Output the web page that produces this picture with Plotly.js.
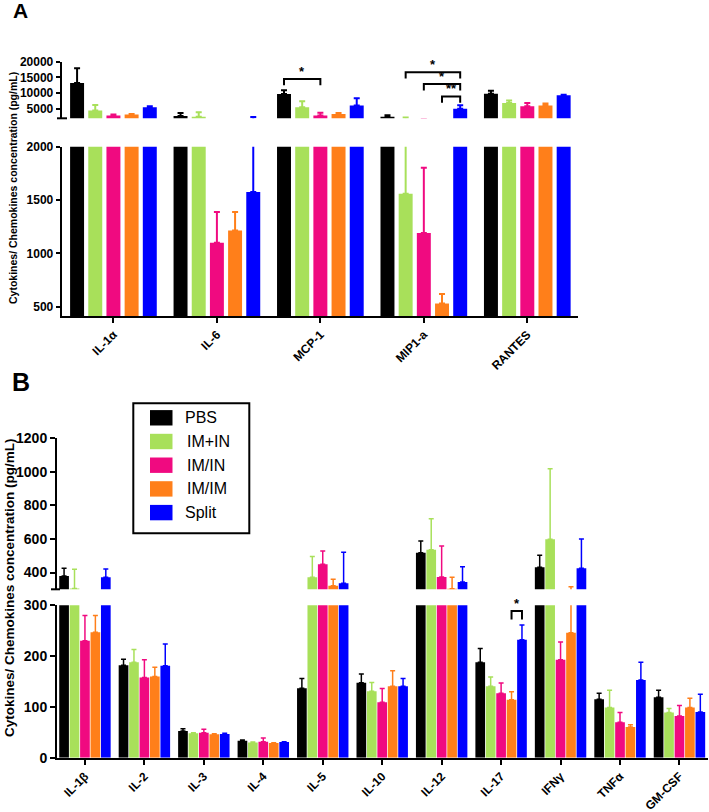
<!DOCTYPE html>
<html>
<head>
<meta charset="utf-8">
<script src="https://cdn.plot.ly/plotly-3.0.1.min.js"></script>
<style>body{margin:0;background:#fff}</style>
</head>
<body>
<div id="chart" style="width:709px;height:812px"></div>
<script>
// groups / colours
var groups = ['PBS', 'IM+IN', 'IM/IN', 'IM/IM', 'Split'];
var colors = ['#000000', '#a8e05a', '#f00a80', '#ff7f1a', '#0000ff'];

// panel A
var catsA = ['IL-1α', 'IL-6', 'MCP-1', 'MIP1-a', 'RANTES'];
var pbsA     = [13200, 2700, 9700, 2500, 9800];
var imPlusA  = [4450, 2500, 5500, 1560, 6900];
var imInA    = [2900, 1100, 2900, 1190, 5800];
var imImA    = [3200, 1215, 3400, 530, 6050];
var splitA   = [5500, 1575, 6050, 5000, 9300];
var pbsAErr    = [4700, 1000, 1200, 500, 1000];
var imPlusAErr = [1800, 1400, 1900, 690, 800];
var imInAErr   = [300, 288, 840, 613, 1090];
var imImAErr   = [200, 173, 300, 90, 620];
var splitAErr  = [320, 825, 2290, 1140, 150];

// panel B
var catsB = ['IL-1β', 'IL-2', 'IL-3', 'IL-4', 'IL-5', 'IL-10', 'IL-12', 'IL-17', 'IFNγ', 'TNFα', 'GM-CSF'];
var pbsB     = [379, 182, 52.6, 33.5, 136.6, 147.6, 518, 188, 431, 115, 119];
var imPlusB  = [305, 188, 48, 30, 372, 131, 535, 140.5, 598, 99, 89];
var imInB    = [230, 158, 49, 31.5, 449, 109, 373, 127, 193, 70, 82];
var imImB    = [247, 160, 46, 29, 321, 140.5, 303, 114, 246, 60.4, 99];
var splitB   = [372, 181, 46.7, 31, 336, 140.5, 344, 232, 425, 153, 90];
var pbsBErr    = [46, 12, 4.4, 1.5, 19.4, 17.4, 70, 27, 72, 12, 14];
var imPlusBErr = [115, 25, 1, 1, 123, 17, 185, 18.5, 420, 34, 8];
var imInBErr   = [50, 35, 7, 7.5, 80, 27, 185, 20, 35, 19, 21];
var imImBErr   = [33, 18, 1, 0.5, 39, 30.5, 69, 16, 69, 4.6, 18];
var splitBErr  = [49, 43, 1.3, 0.5, 185, 15.5, 91, 29, 175, 35, 35];

// significance brackets: category, from group, to group, bracket top, label
var sigA = [
  {cat: 2, from: 0, to: 2, top: 14500, label: '*'},
  {cat: 3, from: 1, to: 4, top: 16660, label: '*'},
  {cat: 3, from: 2, to: 4, top: 12880, label: '*'},
  {cat: 3, from: 3, to: 4, top: 8970, label: '**'}
];
var sigB = [
  {cat: 7, from: 3, to: 4, top: 289, label: '*'}
];

var meansA = [pbsA, imPlusA, imInA, imImA, splitA];
var errsA = [pbsAErr, imPlusAErr, imInAErr, imImAErr, splitAErr];
var meansB = [pbsB, imPlusB, imInB, imImB, splitB];
var errsB = [pbsBErr, imPlusBErr, imInBErr, imImBErr, splitBErr];

var W = 709, H = 812;
function px(p) { return p / W; }
function py(p) { return 1 - p / H; }

var FONT = 'Liberation Sans, Arial, sans-serif';
var slotA = 0.1757, widthA = 0.135;
var slotB = 0.1755, widthB = 0.163;

function idx(n) { var a = []; for (var i = 0; i < n; i++) a.push(i); return a; }
function zeros(n) { var a = []; for (var i = 0; i < n; i++) a.push(0); return a; }

var data = [];
function addBars(means, errs, cats, xa, ya, slot, w, errW, errT) {
  for (var i = 0; i < groups.length; i++) {
    data.push({
      type: 'bar',
      name: groups[i],
      x: idx(cats.length),
      y: means[i],
      xaxis: xa, yaxis: ya,
      width: w,
      offset: (i - 2) * slot - w / 2,
      marker: {color: colors[i], line: {width: 0}},
      error_y: {type: 'data', symmetric: false, array: errs[i], arrayminus: zeros(cats.length),
                color: colors[i], thickness: errT, width: errW},
      showlegend: false,
      hoverinfo: 'skip'
    });
  }
}
addBars(meansA, errsA, catsA, 'x', 'y', slotA, widthA, 3, 2);
addBars(meansA, errsA, catsA, 'x', 'y2', slotA, widthA, 3, 2);
addBars(meansB, errsB, catsB, 'x2', 'y3', slotB, widthB, 2.5, 1.5);
addBars(meansB, errsB, catsB, 'x2', 'y4', slotB, widthB, 2.5, 1.5);

function yax(domain, range, vals, anchor, size, tlen) {
  return {
    domain: domain, range: range, anchor: anchor,
    tickvals: vals, tickformat: 'd', showline: true, linewidth: 2, linecolor: '#000',
    ticks: 'outside', ticklen: tlen, tickwidth: 2, tickcolor: '#000',
    showgrid: false, zeroline: false,
    tickfont: {family: FONT, size: size, color: '#000', weight: 'bold'}
  };
}
function xax(domain, range, cats, anchor, size) {
  return {
    domain: domain, range: range, anchor: anchor,
    tickvals: idx(cats.length), ticktext: cats, tickangle: -45,
    showline: true, linewidth: 2, linecolor: '#000',
    ticks: 'outside', ticklen: 5, tickwidth: 2, tickcolor: '#000',
    showgrid: false, zeroline: false,
    tickfont: {family: FONT, size: size, color: '#000', weight: 'bold'}
  };
}

var shapes = [];
var annotations = [];

function addSig(list, slot, xref, yref, drop) {
  list.forEach(function (s) {
    var x0 = s.cat + (s.from - 2) * slot;
    var x1 = s.cat + (s.to - 2) * slot;
    shapes.push({type: 'path', xref: xref, yref: yref,
      path: 'M' + x0 + ',' + (s.top - drop) + 'V' + s.top + 'H' + x1 + 'V' + (s.top - drop),
      line: {color: '#000', width: 2}});
    annotations.push({xref: xref, yref: yref, x: (x0 + x1) / 2, y: s.top,
      text: s.label, showarrow: false, yanchor: 'bottom', yshift: -2,
      font: {family: FONT, size: 13, color: '#000', weight: 'bold'}});
  });
}
addSig(sigA, slotA, 'x', 'y2', 2000);
addSig(sigB, slotB, 'x2', 'y3', 17);

// axis break marks
shapes.push({type: 'line', xref: 'paper', yref: 'paper', x0: px(57), x1: px(67), y0: py(118.3), y1: py(118.3),
  line: {color: '#000', width: 2}});
shapes.push({type: 'line', xref: 'paper', yref: 'paper', x0: px(51), x1: px(60), y0: py(589.3), y1: py(589.3),
  line: {color: '#000', width: 2}});

// legend (panel B)
shapes.push({type: 'rect', xref: 'paper', yref: 'paper', x0: px(133.3), x1: px(249.3), y0: py(533.3), y1: py(403.3),
  line: {color: '#000', width: 2}, fillcolor: 'rgba(0,0,0,0)'});
groups.forEach(function (g, i) {
  var cy = 417.8 + i * 23.7;
  shapes.push({type: 'rect', xref: 'paper', yref: 'paper', x0: px(150), x1: px(172.5),
    y0: py(cy + 7.7), y1: py(cy - 7.7), line: {width: 0}, fillcolor: colors[i]});
  annotations.push({xref: 'paper', yref: 'paper', x: px(i > 0 && i < 4 ? 185 : 182.7), y: py(cy),
    xanchor: 'left', yanchor: 'middle', text: g, showarrow: false,
    font: {family: FONT, size: 16, color: '#000'}});
});

// panel letters and y titles
annotations.push({xref: 'paper', yref: 'paper', x: px(20), y: py(11), text: 'A', showarrow: false,
  xanchor: 'center', yanchor: 'middle', font: {family: FONT, size: 21, color: '#000', weight: 'bold'}});
annotations.push({xref: 'paper', yref: 'paper', x: px(21), y: py(382), text: 'B', showarrow: false,
  xanchor: 'center', yanchor: 'middle', font: {family: FONT, size: 25, color: '#000', weight: 'bold'}});
annotations.push({xref: 'paper', yref: 'paper', x: px(13), y: py(188), textangle: -90,
  text: 'Cytokines/ Chemokines concentration (pg/mL)', showarrow: false,
  xanchor: 'center', yanchor: 'middle', font: {family: FONT, size: 10.5, color: '#000', weight: 'bold'}});
annotations.push({xref: 'paper', yref: 'paper', x: px(9), y: py(588), textangle: -90,
  text: 'Cytokines/ Chemokines concentration (pg/mL)', showarrow: false,
  xanchor: 'center', yanchor: 'middle', font: {family: FONT, size: 13.5, color: '#000', weight: 'bold'}});

var layout = {
  width: W, height: H,
  margin: {l: 0, r: 0, t: 0, b: 0},
  paper_bgcolor: '#fff', plot_bgcolor: 'rgba(0,0,0,0)',
  showlegend: false,
  barmode: 'group',
  xaxis: xax([px(61.7), px(578)], [-0.5, 4.49], catsA, 'y', 12),
  yaxis: yax([py(316), py(146.7)], [413, 2000], [500, 1000, 1500, 2000], 'x', 12, 4),
  yaxis2: yax([py(118.3), py(61.7)], [2000, 20000], [5000, 10000, 15000, 20000], 'x', 12, 4),
  xaxis2: xax([px(57), px(708)], [-0.47, 10.48], catsB, 'y3', 12),
  yaxis3: yax([py(757.7), py(605.3)], [0, 300], [0, 100, 200, 300], 'x2', 14, 5),
  yaxis4: yax([py(589.3), py(438.3)], [300, 1200], [400, 600, 800, 1000, 1200], 'x2', 14, 5),
  shapes: shapes,
  annotations: annotations
};

Plotly.newPlot('chart', data, layout, {staticPlot: true, displayModeBar: false});
</script>
</body>
</html>
